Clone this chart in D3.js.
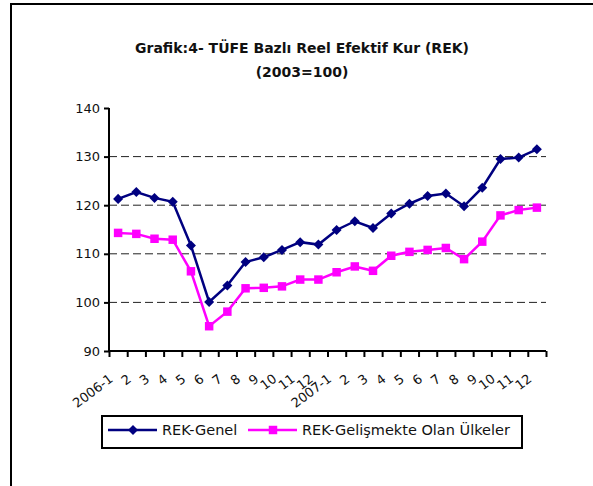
<!DOCTYPE html>
<html>
<head>
<meta charset="utf-8">
<script src="https://cdn.jsdelivr.net/npm/d3@7"></script>
<style>
	body { margin: 0; background: #fff; }
	svg { display: block; }
	text { font-family: "DejaVu Sans", sans-serif; fill: #111; }
</style>
</head>
<body>
<svg id="chart" width="593" height="486"></svg>
<script>
// data
var monthLabels = ['2006-1', '2', '3', '4', '5', '6', '7', '8', '9', '10', '11', '12',
	'2007-1', '2', '3', '4', '5', '6', '7', '8', '9', '10', '11', '12'];
var rekGenel = [121.3, 122.7, 121.5, 120.7, 111.7, 100.1, 103.5, 108.3, 109.3, 110.8, 112.4, 111.9,
	114.9, 116.7, 115.3, 118.3, 120.3, 121.9, 122.4, 119.8, 123.6, 129.5, 129.8, 131.5];
var rekGelismekte = [114.3, 114.1, 113.1, 112.9, 106.4, 95.1, 98.1, 102.9, 103.0, 103.3, 104.7, 104.7,
	106.2, 107.4, 106.5, 109.6, 110.4, 110.8, 111.2, 108.9, 112.5, 117.9, 119.0, 119.5];
var yTicks = [90, 100, 110, 120, 130, 140];
var gridValues = [100, 110, 120, 130];
var seriesNames = ['REK-Genel', 'REK-Gelişmekte Olan Ülkeler'];
var titleLines = ['Grafik:4- TÜFE Bazlı Reel Efektif Kur (REK)', '(2003=100)'];

const Chart = {
	plot: { left: 109, right: 546, top: 108, bottom: 351 },
	colors: ['#000080', '#ff00ff'],
	x: null,
	y: null,

	init: function() {
		const self = this;
		var plot = self.plot;

		self.x = d3.scaleLinear()
			.domain([0, monthLabels.length])
			.range([plot.left, plot.right]);
		self.y = d3.scaleLinear()
			.domain([90, 140])
			.range([plot.bottom, plot.top]);
	},
	update: function() {
		Chart.drawFrame();
		Chart.drawTitle();
		Chart.drawGrid();
		Chart.drawAxes();
		Chart.drawSeries();
		Chart.drawLegend();
	},

	drawFrame: function() {
		d3.select('#chart').append('rect')
			.attr('x', 11).attr('y', 4)
			.attr('width', 620).attr('height', 500)
			.attr('fill', 'none')
			.attr('stroke', '#000')
			.attr('stroke-width', 2);
	},
	drawTitle: function() {
		var svg = d3.select('#chart');

		svg.selectAll('.title')
			.data(titleLines)
			.enter().append('text')
			.attr('class', 'title')
			.attr('x', 302)
			.attr('y', function(d, i) { return 53 + i * 24; })
			.attr('text-anchor', 'middle')
			.style('font-weight', 'bold')
			.style('font-size', '14px')
			.text(function(d) { return d; });
	},
	drawGrid: function() {
		const self = this;
		var plot = self.plot;

		d3.select('#chart').selectAll('.grid')
			.data(gridValues)
			.enter().append('line')
			.attr('class', 'grid')
			.attr('x1', plot.left).attr('x2', plot.right)
			.attr('y1', function(d) { return self.y(d); })
			.attr('y2', function(d) { return self.y(d); })
			.attr('stroke', '#222')
			.attr('stroke-width', 1)
			.attr('stroke-dasharray', '8,4');
	},
	drawAxes: function() {
		const self = this;
		var svg = d3.select('#chart');
		var plot = self.plot;

		var yAxis = svg.append('g')
			.attr('transform', 'translate(' + [plot.left, 0] + ')')
			.call(d3.axisLeft(self.y).tickValues(yTicks).tickSize(5).tickPadding(4));
		yAxis.select('.domain').attr('d', 'M0,' + plot.top + 'V' + plot.bottom)
			.attr('stroke-width', 2);
		yAxis.selectAll('.tick line').attr('stroke-width', 2);
		yAxis.selectAll('.tick text')
			.style('font-size', '13px')
			.style('font-family', '"DejaVu Sans", sans-serif')
			.attr('fill', '#111');

		var xAxis = svg.append('g')
			.attr('transform', 'translate(' + [0, plot.bottom] + ')')
			.call(d3.axisBottom(self.x).tickValues(d3.range(monthLabels.length + 1)).tickSize(6).tickFormat(''));
		xAxis.select('.domain').attr('d', 'M' + plot.left + ',0H' + plot.right)
			.attr('stroke-width', 2);
		xAxis.selectAll('.tick line').attr('stroke-width', 2);

		// rotated month labels
		svg.selectAll('.month')
			.data(monthLabels)
			.enter().append('text')
			.attr('class', 'month')
			.attr('transform', function(d, i) {
				return 'translate(' + [self.x(i + 0.5) - 7, plot.bottom + 26] + ') rotate(-37)';
			})
			.attr('text-anchor', 'end')
			.attr('dy', '0.35em')
			.style('font-size', '13px')
			.text(function(d) { return d; });
	},
	drawSeries: function() {
		const self = this;
		var svg = d3.select('#chart');
		var seriesList = [rekGenel, rekGelismekte];

		var line = d3.line()
			.x(function(d, i) { return self.x(i + 0.5); })
			.y(function(d) { return self.y(d); });

		seriesList.forEach(function(values, k) {
			var color = self.colors[k];
			svg.append('path')
				.datum(values)
				.attr('d', line)
				.attr('fill', 'none')
				.attr('stroke', color)
				.attr('stroke-width', 2.5);

			svg.selectAll('.marker' + k)
				.data(values)
				.enter().append('path')
				.attr('class', 'marker' + k)
				.attr('transform', function(d, i) {
					return 'translate(' + [self.x(i + 0.5), self.y(d)] + ')';
				})
				.attr('d', k == 0
					? d3.symbol(d3.symbolDiamond2, 64)
					: d3.symbol(d3.symbolSquare, 72))
				.attr('fill', color);
		});
	},
	drawLegend: function() {
		const self = this;
		var svg = d3.select('#chart');
		var legendY = 430;
		var items = [
			{ x: 108, textX: 162 },
			{ x: 248, textX: 302 }
		];

		svg.append('rect')
			.attr('x', 102).attr('y', 416)
			.attr('width', 420).attr('height', 32)
			.attr('fill', '#fff')
			.attr('stroke', '#000')
			.attr('stroke-width', 2);

		items.forEach(function(item, k) {
			var color = self.colors[k];
			svg.append('line')
				.attr('x1', item.x).attr('x2', item.x + 49)
				.attr('y1', legendY).attr('y2', legendY)
				.attr('stroke', color)
				.attr('stroke-width', 2.5);
			svg.append('path')
				.attr('transform', 'translate(' + [item.x + 25, legendY] + ')')
				.attr('d', k == 0
					? d3.symbol(d3.symbolDiamond2, 64)
					: d3.symbol(d3.symbolSquare, 72))
				.attr('fill', color);
			svg.append('text')
				.attr('x', item.textX)
				.attr('y', legendY)
				.attr('dy', '0.35em')
				.style('font-size', '14.5px')
				.text(seriesNames[k]);
		});
	}
};

Chart.init();
Chart.update();
</script>
</body>
</html>
